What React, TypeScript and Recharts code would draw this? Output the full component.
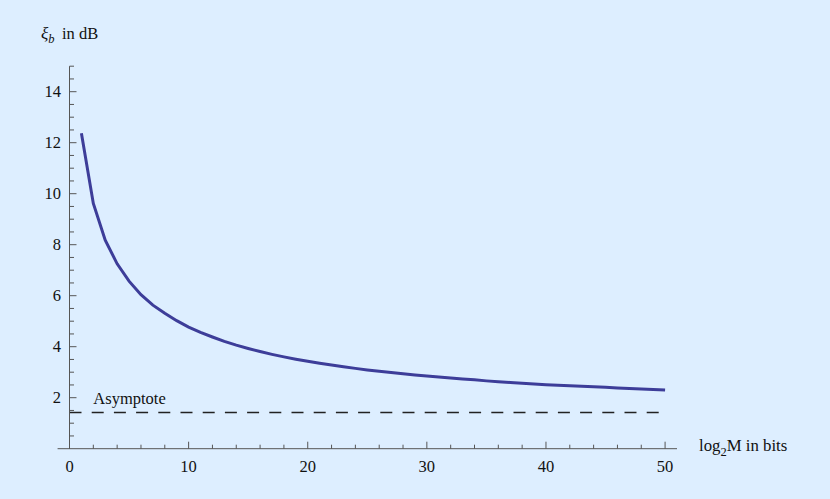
import React from 'react';
import { LineChart, Line, XAxis, YAxis, ReferenceLine, Customized } from 'recharts';

const bits = [
  1, 2, 3, 4, 5, 6, 7, 8, 9, 10, 11, 12, 13, 14, 15, 16, 17, 18, 19, 20, 21, 22, 23, 24, 25,
  26, 27, 28, 29, 30, 31, 32, 33, 34, 35, 36, 37, 38, 39, 40, 41, 42, 43, 44, 45, 46, 47, 48, 49, 50,
];
const ebDb = [
  12.37, 9.62, 8.18, 7.25, 6.57, 6.04, 5.63, 5.31, 5.02, 4.77,
  4.56, 4.38, 4.21, 4.06, 3.93, 3.81, 3.7, 3.6, 3.51, 3.43,
  3.35, 3.28, 3.21, 3.15, 3.09, 3.04, 2.99, 2.94, 2.89, 2.85,
  2.81, 2.77, 2.73, 2.7, 2.66, 2.63, 2.6, 2.57, 2.54, 2.51,
  2.49, 2.47, 2.45, 2.43, 2.41, 2.38, 2.36, 2.34, 2.32, 2.3,
];
const asymptoteDb = 1.42;
const asymptoteLabel = 'Asymptote';
const xTicks = [0, 2, 4, 6, 8, 10, 12, 14, 16, 18, 20, 22, 24, 26, 28, 30, 32, 34, 36, 38, 40, 42, 44, 46, 48, 50];
const xLabeled = [0, 10, 20, 30, 40, 50];
const yTicks = [0.5, 1, 1.5, 2, 2.5, 3, 3.5, 4, 4.5, 5, 5.5, 6, 6.5, 7, 7.5, 8, 8.5, 9, 9.5, 10, 10.5, 11, 11.5, 12, 12.5, 13, 13.5, 14, 14.5, 15];
const yLabeled = [2, 4, 6, 8, 10, 12, 14];

const data = bits.map((b, i) => ({ bits: b, eb: ebDb[i] }));

const FONT = '"Liberation Serif", "DejaVu Serif", serif';
const AXIS = '#555';

const XTick = (props: any) => {
  const { x, y, payload } = props;
  const v = payload.value;
  const major = v % 10 === 0;
  return (
    <g>
      <line x1={x} x2={x} y1={y} y2={y - (major ? 7 : 4)} stroke={AXIS} strokeWidth={1} />
      {xLabeled.includes(v) && (
        <text x={x} y={y + 23} textAnchor="middle" fontFamily={FONT} fontSize={16.5} fill="#111">
          {v}
        </text>
      )}
    </g>
  );
};

const YTick = (props: any) => {
  const { x, y, payload } = props;
  const v = payload.value;
  const major = v % 2 === 0;
  return (
    <g>
      <line x1={x} x2={x + (major ? 7 : 4.5)} y1={y} y2={y} stroke={AXIS} strokeWidth={1} />
      {yLabeled.includes(v) && (
        <text x={x - 8.5} y={y} dy="0.35em" textAnchor="end" fontFamily={FONT} fontSize={16.5} fill="#111">
          {v}
        </text>
      )}
    </g>
  );
};

const Labels = () => (
  <g fontFamily={FONT} fill="#111">
    <text x={41} y={39} fontSize={17}>
      <tspan fontStyle="italic">ξ</tspan>
      <tspan fontStyle="italic" fontSize={12.5} dy={4}>b</tspan>
      <tspan x={62} dy={-4} fontSize={16.5}>in dB</tspan>
    </text>
    <text x={699} y={451} fontSize={16.8}>
      <tspan>log</tspan>
      <tspan fontSize={12.5} dy={5}>2</tspan>
      <tspan dy={-5}>M in bits</tspan>
    </text>
    <text x={93.3} y={404} fontSize={16.5}>{asymptoteLabel}</text>
  </g>
);

export default function App() {
  return (
    <div style={{ position: 'fixed', left: 0, top: 0, width: 830, height: 499, background: '#DDEEFF' }}>
      <LineChart width={830} height={499} data={data} margin={{ top: 66.2, right: 153, bottom: 20.3, left: 9.5 }}>
        <XAxis
          type="number"
          dataKey="bits"
          domain={[0, 51]}
          ticks={xTicks}
          interval={0}
          tick={XTick}
          tickLine={false}
          axisLine={false}
          tickSize={0}
          tickMargin={0}
          height={30}
          allowDataOverflow
        />
        <YAxis
          type="number"
          domain={[0, 15]}
          ticks={yTicks}
          interval={0}
          tick={YTick}
          tickLine={false}
          axisLine={{ stroke: AXIS, strokeWidth: 1 }}
          tickSize={0}
          tickMargin={0}
          width={60}
          allowDataOverflow
        />
        <ReferenceLine
          segment={[{ x: -1, y: 0 }, { x: 51, y: 0 }]}
          ifOverflow="visible"
          stroke={AXIS}
          strokeWidth={1}
        />
        <ReferenceLine
          segment={[{ x: 0, y: asymptoteDb }, { x: 50, y: asymptoteDb }]}
          ifOverflow="visible"
          stroke="#222"
          strokeWidth={1.6}
          strokeDasharray="12 10.2"
        />
        <Line
          type="linear"
          dataKey="eb"
          stroke="#3d3d99"
          strokeWidth={3}
          dot={false}
          isAnimationActive={false}
        />
        <Customized component={Labels} />
      </LineChart>
    </div>
  );
}
